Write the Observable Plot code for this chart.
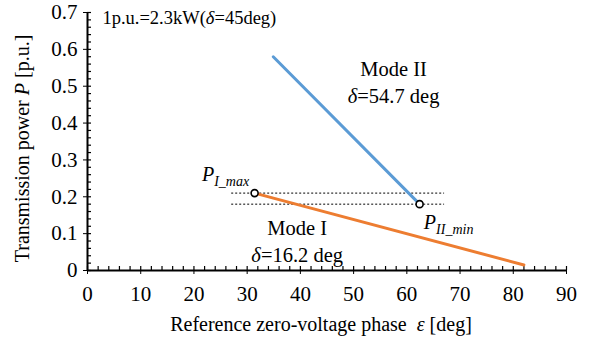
<!DOCTYPE html>
<html><head><meta charset="utf-8">
<script src="https://cdn.jsdelivr.net/npm/d3@7"></script>
<script src="https://cdn.jsdelivr.net/npm/@observablehq/plot@0.6"></script>
<style>
body{margin:0;background:#fff}
svg, svg text, svg g{font-family:"Liberation Serif","Times New Roman",serif !important; font-variant: normal !important; font-variant-numeric: normal !important}
</style>
</head><body><div id="chart"></div>
<script>
// ---- data ----
const xTicks = [0, 10, 20, 30, 40, 50, 60, 70, 80, 90];
const yTicks = [0, 0.1, 0.2, 0.3, 0.4, 0.5, 0.6, 0.7];
const xMinor = [0,2,4,6,8,10,12,14,16,18,20,22,24,26,28,30,32,34,36,38,40,42,44,46,48,50,52,54,56,58,60,62,64,66,68,70,72,74,76,78,80,82,84,86,88,90];
const yMinor = [0,0.02,0.04,0.06,0.08,0.1,0.12,0.14,0.16,0.18,0.2,0.22,0.24,0.26,0.28,0.3,0.32,0.34,0.36,0.38,0.4,0.42,0.44,0.46,0.48,0.5,0.52,0.54,0.56,0.58,0.6,0.62,0.64,0.66,0.68,0.7];
const modeIEps = [31.4, 82.0];
const modeIP = [0.21, 0.015];
const modeIIEps = [34.9, 62.4];
const modeIIP = [0.58, 0.18];
const markerEps = [31.4, 62.4];
const markerP = [0.21, 0.18];
const markerNames = ["P_I_max", "P_II_min"];
const levelP = [0.21, 0.18];
const levelEps = [27, 67];

const modeI = modeIEps.map((e, i) => ({eps: e, P: modeIP[i]}));
const modeII = modeIIEps.map((e, i) => ({eps: e, P: modeIIP[i]}));
const markers = markerEps.map((e, i) => ({eps: e, P: markerP[i], name: markerNames[i]}));
const levels = levelP.map(p => ({P: p, e1: levelEps[0], e2: levelEps[1]}));

const W = 592, H = 341;
const mL = 87, mR = 26, mT = 12, mB = 71;
const fw = W - mL - mR, fh = H - mT - mB;
const FF = "'Liberation Serif','Times New Roman',serif";

const chart = Plot.plot({
  width: W, height: H,
  marginLeft: mL, marginRight: mR, marginTop: mT, marginBottom: mB,
  style: {fontSize: "21px", fontFamily: FF, color: "black", background: "white"},
  x: {domain: [0, 90], ticks: xTicks, tickSize: 4, tickPadding: 12, label: null, tickFormat: d => String(d)},
  y: {domain: [0, 0.7], ticks: yTicks, tickSize: 4, tickPadding: 6, label: null, tickFormat: d => d === 0 ? "0" : d.toFixed(1)},
  marks: [
    Plot.tickX(xMinor, {x: d => d, insetTop: fh - 4, stroke: "black", strokeWidth: 1.2}),
    Plot.tickY(yMinor, {y: d => d, insetRight: fw - 4, stroke: "black", strokeWidth: 1.2}),
    Plot.ruleY([0], {stroke: "black", strokeWidth: 2}),
    Plot.ruleX([0], {stroke: "black", strokeWidth: 2}),
    Plot.link(levels, {x1: "e1", x2: "e2", y1: "P", y2: "P", stroke: "black", strokeWidth: 1, strokeDasharray: "2,2"}),
    Plot.line(modeII, {x: "eps", y: "P", stroke: "#5B9BD5", strokeWidth: 3}),
    Plot.line(modeI, {x: "eps", y: "P", stroke: "#ED7D31", strokeWidth: 3}),
    Plot.dot(markers, {x: "eps", y: "P", r: 3.5, fill: "white", stroke: "black", strokeWidth: 1.6}),
    Plot.text(["1p.u.=2.3kW(δ=45deg)"], {x: 2.8, y: 0.684, text: d => d, textAnchor: "start", fontSize: 18.5}),
    Plot.text(["Mode II"], {x: 57.5, y: 0.545, text: d => d, fontSize: 20.5}),
    Plot.text(["δ=54.7 deg"], {x: 57.5, y: 0.472, text: d => d, fontSize: 20.5}),
    Plot.text(["Mode I"], {x: 39.4, y: 0.113, text: d => d, fontSize: 20.5}),
    Plot.text(["δ=16.2 deg"], {x: 39.4, y: 0.042, text: d => d, fontSize: 20.5}),
    Plot.text(markers, {x: d => d.name === "P_I_max" ? 21.5 : 63.2, y: d => d.name === "P_I_max" ? 0.26 : 0.13, text: "name", textAnchor: "start", fontSize: 20}),
    Plot.text(["Reference zero-voltage phase  ε [deg]"], {frameAnchor: "bottom", textAnchor: "middle", dy: 60, dx: -6, text: d => d, fontSize: 20}),
    Plot.text(["Transmission power P [p.u.]"], {frameAnchor: "left", textAnchor: "middle", lineAnchor: "middle", dx: -65, dy: 7, rotate: -90, text: d => d, fontSize: 20})
  ]
});

const it = s => `<tspan font-style="italic">${s}</tspan>`;
const rich = {
  "1p.u.=2.3kW(δ=45deg)": `1p.u.=2.3kW(${it("δ")}=45deg)`,
  "δ=54.7 deg": `${it("δ")}=54.7 deg`,
  "δ=16.2 deg": `${it("δ")}=16.2 deg`,
  "P_I_max": `${it("P")}<tspan font-style="italic" font-size="14" dy="5">I_max</tspan>`,
  "P_II_min": `${it("P")}<tspan font-style="italic" font-size="14" dy="5">II_min</tspan>`,
  "Reference zero-voltage phase  ε [deg]": `Reference zero-voltage phase <tspan xml:space="preserve"> </tspan>${it("ε")} [deg]`,
  "Transmission power P [p.u.]": `Transmission power ${it("P")} [p.u.]`
};
chart.querySelectorAll("text").forEach(t => {
  t.style.fontFamily = FF;
  t.style.fontVariant = "normal";
  t.removeAttribute("font-variant");
  const k = t.textContent;
  if (rich[k] !== undefined) t.innerHTML = rich[k];
});
chart.querySelectorAll("g").forEach(g => { g.style.fontFamily = FF; g.removeAttribute("font-variant"); });
document.getElementById("chart").appendChild(chart);
</script>
</body></html>
